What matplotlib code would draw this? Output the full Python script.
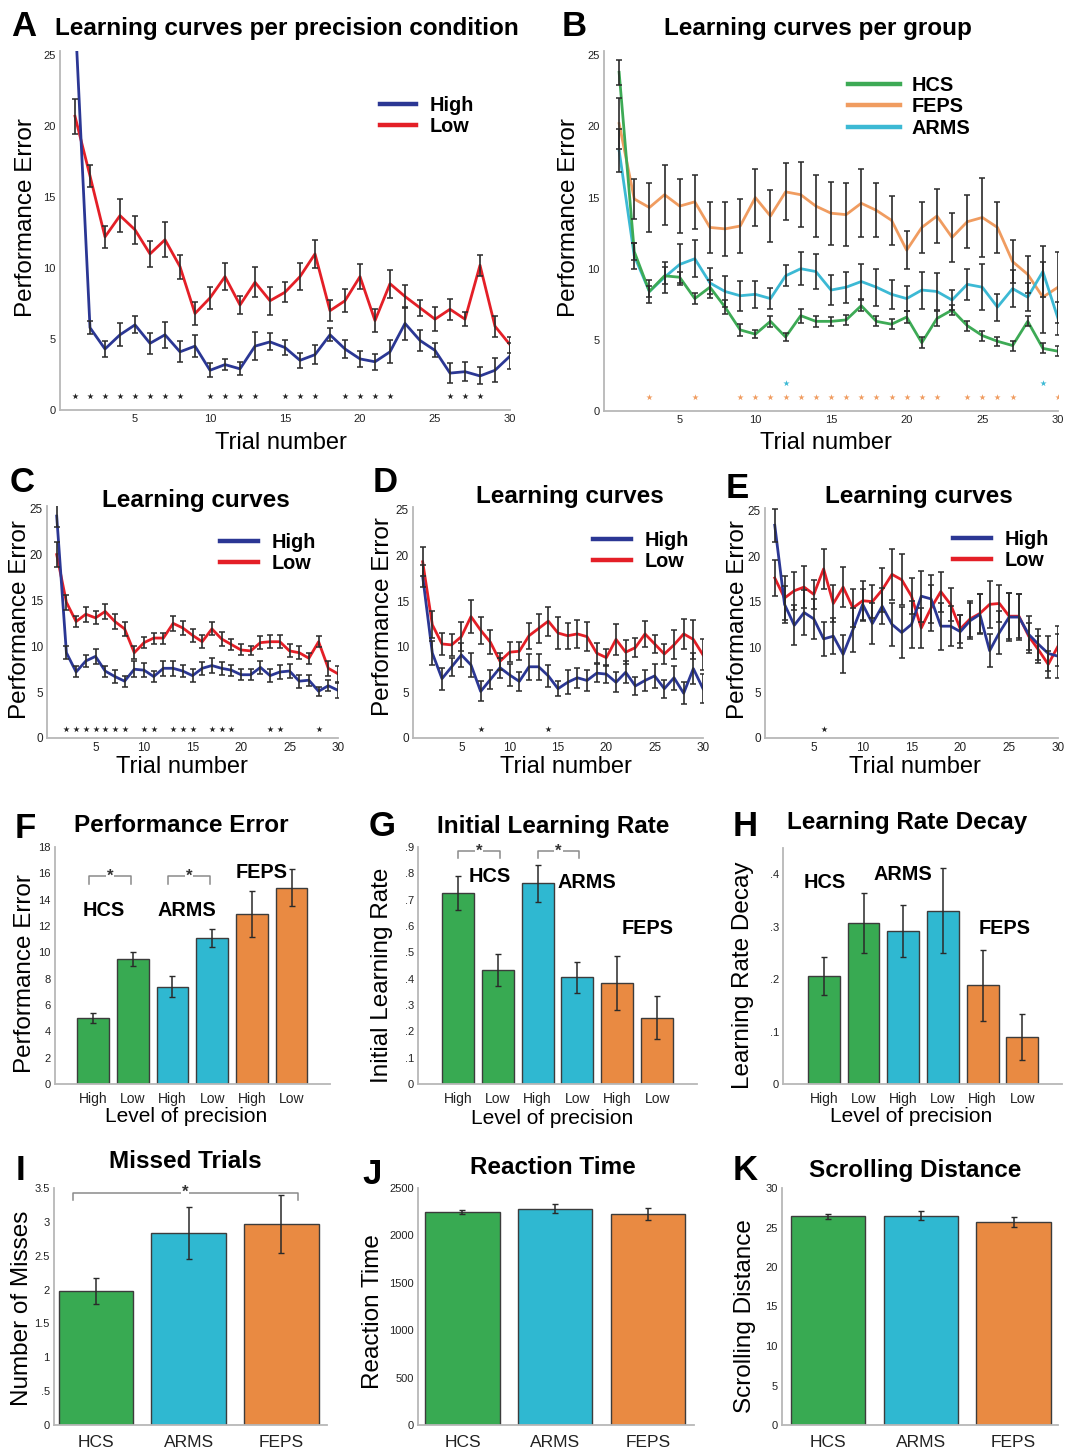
import numpy as np
import matplotlib
matplotlib.use("Agg")
import matplotlib.pyplot as plt
from matplotlib.lines import Line2D

plt.rcParams['font.family'] = ['Liberation Sans', 'DejaVu Sans']

W, H = 1065, 1452

## Data
trials = np.arange(1, 31)

# A: learning curves per precision condition
a_high = [28.0, 5.8, 4.3, 5.3, 6.0, 4.7, 5.3, 4.1, 4.5, 2.8, 3.2, 2.9, 4.5, 4.8, 4.4,
          3.5, 3.9, 5.3, 4.3, 3.6, 3.4, 4.1, 6.1, 4.9, 4.2, 2.6, 2.7, 2.4, 2.8, 3.8]
a_high_err = [1.5, 0.45, 0.55, 0.8, 0.6, 0.75, 0.9, 0.75, 0.8, 0.5, 0.4, 0.45, 1.0, 0.6, 0.55,
              0.55, 0.65, 0.45, 0.65, 0.55, 0.55, 0.8, 1.15, 0.75, 0.5, 0.7, 0.65, 0.6, 0.85, 0.9]
a_low = [20.7, 16.5, 12.2, 13.7, 12.7, 11.0, 12.0, 10.1, 6.8, 7.9, 9.4, 7.4, 9.0, 7.7, 8.3,
         9.4, 11.0, 7.0, 7.7, 9.4, 6.3, 8.9, 8.0, 7.2, 6.4, 7.1, 6.4, 10.2, 5.9, 4.6]
a_low_err = [1.25, 0.8, 0.75, 1.15, 1.0, 0.9, 1.25, 0.85, 0.8, 0.75, 0.95, 0.6, 1.05, 1.0, 0.7,
             0.95, 1.0, 0.75, 0.8, 0.9, 0.8, 1.0, 0.8, 0.55, 0.85, 0.75, 0.5, 0.75, 0.75, 0.55]
a_sig = [1, 2, 3, 4, 5, 6, 7, 8, 10, 11, 12, 13, 15, 16, 17, 19, 20, 21, 22, 26, 27, 28]

# B: learning curves per group
b_hcs = [23.8, 11.2, 8.4, 9.5, 9.4, 7.9, 8.7, 7.3, 5.7, 5.4, 6.3, 5.2, 6.7, 6.3, 6.3,
         6.4, 7.4, 6.3, 6.1, 6.6, 4.8, 6.5, 7.1, 6.0, 5.3, 4.9, 4.6, 6.3, 4.4, 4.2]
b_hcs_err = [0.9, 0.6, 0.4, 0.6, 0.4, 0.4, 0.5, 0.5, 0.4, 0.3, 0.4, 0.3, 0.5, 0.4, 0.3,
             0.35, 0.4, 0.35, 0.35, 0.4, 0.4, 0.5, 0.35, 0.35, 0.35, 0.3, 0.35, 0.35, 0.35, 0.35]
b_feps = [20.2, 14.9, 14.3, 15.2, 14.4, 14.7, 12.9, 12.8, 13.0, 15.0, 13.7, 15.4, 15.2, 14.4, 13.9,
          13.8, 14.6, 14.1, 13.4, 11.3, 12.9, 13.7, 12.2, 13.3, 13.6, 12.9, 10.5, 9.6, 8.0, 8.7]
b_feps_err = [1.8, 1.4, 1.75, 2.1, 1.9, 1.9, 1.8, 1.9, 1.9, 2.0, 1.8, 2.0, 2.3, 2.2, 2.2,
              2.2, 2.4, 1.9, 1.7, 1.35, 1.8, 1.9, 1.7, 1.85, 2.8, 1.8, 1.5, 1.3, 2.5, 2.5]
b_arms = [18.3, 10.9, 8.4, 9.4, 10.3, 10.7, 9.0, 8.4, 8.1, 8.2, 7.9, 9.5, 10.0, 9.8, 8.5,
          8.7, 9.1, 8.7, 8.2, 7.9, 8.5, 8.4, 7.8, 8.9, 8.7, 7.3, 8.6, 8.0, 9.8, 6.5]
b_arms_err = [1.5, 0.9, 0.8, 1.1, 1.45, 1.3, 1.05, 1.1, 1.05, 0.95, 0.75, 0.75, 1.15, 1.2, 1.05,
              1.1, 1.2, 1.3, 1.0, 0.9, 1.3, 1.3, 0.7, 1.1, 1.6, 0.95, 1.3, 1.0, 1.8, 1.15]
b_sig_feps = [3, 6, 9, 10, 11, 12, 13, 14, 15, 16, 17, 18, 19, 20, 21, 22, 24, 25, 26, 27, 30]
b_sig_arms = [12, 29]

# C, D, E: learning curves for HCS, ARMS, FEPS
c_high = [24.2, 9.3, 7.2, 8.4, 8.9, 7.3, 6.7, 6.2, 7.5, 7.4, 6.7, 7.6, 7.6, 7.3, 6.8,
          7.6, 7.9, 7.6, 7.4, 6.9, 6.9, 7.7, 6.8, 7.2, 7.3, 6.2, 6.3, 5.1, 5.7, 5.2]
c_high_err = [1.2, 0.7, 0.6, 0.7, 0.8, 0.6, 0.7, 0.6, 0.9, 0.8, 0.6, 0.8, 0.8, 0.7, 0.7,
              0.7, 0.8, 0.7, 0.6, 0.6, 0.6, 0.7, 0.7, 0.8, 0.8, 0.7, 0.6, 0.5, 0.6, 0.8]
c_low = [20.0, 14.8, 12.7, 13.5, 13.1, 13.8, 12.7, 11.9, 9.3, 10.4, 10.9, 10.9, 12.5, 12.0, 11.2,
         10.5, 11.9, 10.8, 10.2, 9.6, 9.5, 10.4, 10.5, 10.5, 9.5, 9.3, 8.7, 10.5, 7.6, 7.0]
c_low_err = [1.4, 0.8, 0.6, 0.8, 0.7, 0.8, 0.8, 0.8, 0.7, 0.6, 0.6, 0.6, 0.8, 0.8, 0.7,
             0.7, 0.7, 0.8, 0.6, 0.6, 0.5, 0.7, 0.7, 0.7, 0.7, 0.7, 0.6, 0.6, 0.8, 0.9]
c_sig = [2, 3, 4, 5, 6, 7, 8, 10, 11, 13, 14, 15, 17, 18, 19, 23, 24, 28]

d_high = [17.7, 9.3, 6.5, 7.8, 9.1, 8.0, 5.1, 6.4, 7.7, 6.9, 6.2, 7.8, 7.8, 6.8, 5.4,
          6.1, 6.6, 6.3, 7.1, 7.0, 6.1, 7.2, 5.7, 6.3, 6.8, 5.4, 6.6, 4.9, 7.6, 5.4]
d_high_err = [1.2, 1.3, 1.2, 1.0, 1.3, 1.3, 1.1, 1.0, 1.1, 1.2, 1.0, 1.4, 1.4, 1.2, 0.8,
              1.3, 1.1, 1.1, 1.0, 1.0, 1.1, 1.2, 1.0, 1.1, 1.3, 1.0, 1.3, 1.2, 1.7, 1.6]
d_low = [19.3, 12.4, 10.3, 10.2, 11.1, 13.3, 11.8, 10.5, 8.4, 9.4, 9.5, 11.2, 12.0, 12.8, 11.5,
         11.2, 11.4, 11.1, 9.3, 8.8, 10.8, 9.4, 9.9, 11.4, 10.3, 9.2, 10.2, 11.4, 10.8, 9.1]
d_low_err = [1.6, 1.5, 1.2, 1.2, 1.6, 1.8, 1.5, 1.3, 0.9, 1.1, 1.0, 1.4, 1.6, 1.6, 1.8,
             1.4, 1.5, 1.6, 1.1, 0.9, 1.7, 1.3, 1.0, 1.4, 1.0, 1.1, 1.6, 1.6, 2.1, 1.7]
d_sig = [7, 14]

e_high = [23.4, 14.7, 12.4, 13.8, 13.1, 10.9, 11.2, 9.2, 11.9, 14.7, 12.6, 14.5, 12.5, 11.6, 12.5,
          15.6, 15.3, 12.3, 12.3, 11.7, 12.9, 13.6, 9.6, 11.6, 13.3, 13.3, 11.4, 10.3, 9.3, 9.0]
e_high_err = [1.8, 2.0, 2.2, 2.5, 2.2, 1.9, 2.0, 2.1, 2.4, 1.7, 2.3, 2.0, 2.4, 2.8, 2.6,
              2.8, 2.6, 2.6, 2.2, 1.8, 2.0, 2.2, 1.8, 2.4, 2.6, 2.5, 2.0, 1.7, 1.9, 2.4]
e_low = [17.6, 15.4, 16.2, 16.6, 15.8, 18.6, 14.8, 16.6, 14.3, 15.1, 15.0, 16.3, 18.0, 17.4, 15.6,
         12.1, 14.3, 16.1, 14.7, 12.0, 13.1, 13.7, 14.7, 14.8, 13.4, 13.4, 11.2, 9.7, 8.1, 10.1]
e_low_err = [2.0, 2.4, 2.1, 2.3, 1.6, 2.2, 2.0, 2.2, 2.1, 2.2, 1.8, 2.4, 2.8, 2.8, 2.0,
             2.2, 2.5, 2.2, 1.8, 1.5, 2.0, 2.1, 2.6, 2.0, 2.5, 2.4, 1.5, 1.5, 1.5, 2.2]
e_sig = [6]

# F, G, H: model measures per group and precision level
precision_labels = ['High', 'Low', 'High', 'Low', 'High', 'Low']
f_perf = [5.0, 9.5, 7.4, 11.1, 12.9, 14.9]
f_perf_err = [0.4, 0.55, 0.8, 0.7, 1.75, 1.4]
g_rate = [0.725, 0.433, 0.763, 0.405, 0.383, 0.252]
g_rate_err = [0.065, 0.06, 0.07, 0.058, 0.103, 0.082]
h_decay = [0.206, 0.307, 0.292, 0.33, 0.188, 0.09]
h_decay_err = [0.037, 0.057, 0.049, 0.081, 0.068, 0.044]

# I, J, K: per group
groups = ['HCS', 'ARMS', 'FEPS']
i_misses = [1.98, 2.83, 2.97]
i_misses_err = [0.19, 0.385, 0.43]
j_rt = [2246, 2282, 2229]
j_rt_err = [25, 50, 65]
k_scroll = [26.4, 26.5, 25.7]
k_scroll_err = [0.3, 0.55, 0.6]

## Colours and font sizes
BLUE = '#2b3794'
RED = '#e41f27'
LGREEN, LORANGE, LCYAN = '#3daa55', '#f09c60', '#3cb9d4'
GREEN, CYAN, ORANGE = '#38aa52', '#2fb8d1', '#e98a42'
bar6 = [GREEN, GREEN, CYAN, CYAN, ORANGE, ORANGE]
bar3 = [GREEN, CYAN, ORANGE]
ERR = '#2a2a2a'
TITLE_FS = 17.5
LABEL_FS = 17.5
LETTER_FS = 25
TAG_FS = 14.3

fig = plt.figure(figsize=(W / 100, H / 100), dpi=100)


def fx(x):
    return x / W


def fy(y):
    return 1 - y / H


def px_axes(l, t, r, b):
    return fig.add_axes([l / W, 1 - b / H, (r - l) / W, (b - t) / H])


def style(ax, tick_fs=8):
    for s in ['top', 'right']:
        ax.spines[s].set_visible(False)
    for s in ['left', 'bottom']:
        ax.spines[s].set_color('#b8b8b8')
        ax.spines[s].set_linewidth(1.3)
    ax.tick_params(length=0, labelsize=tick_fs, pad=3, colors='#222222')


def set_ylabel(ax, yl, ypos, fs=LABEL_FS):
    ax.set_ylabel(yl, fontsize=fs)
    ax.yaxis.set_label_coords(fx(ypos[0]), fy(ypos[1]), transform=fig.transFigure)
    ax.yaxis.label.set_va('center')


def labels(ax, xl, xpos, yl, ypos, xfs=17):
    ax.set_xlabel(xl, fontsize=xfs)
    ax.xaxis.set_label_coords(fx(xpos[0]), fy(xpos[1]), transform=fig.transFigure)
    ax.xaxis.label.set_va('center')
    set_ylabel(ax, yl, ypos)


def ftext(x, y, s, size, weight='bold', **kw):
    fig.text(fx(x), fy(y), s, ha='center', va='center', fontsize=size, fontweight=weight, **kw)


def legend(ax, names, colors, x, y, hl, ls, pad=0.65):
    handles = [Line2D([], [], color=c, lw=3.2) for c in colors]
    ax.legend(handles, names, loc='upper left', bbox_to_anchor=(fx(x), fy(y)),
              bbox_transform=fig.transFigure, frameon=False,
              prop={'weight': 'bold', 'size': TAG_FS}, handlelength=hl,
              handletextpad=pad, labelspacing=ls, borderpad=0, borderaxespad=0)


def curves(ax, series):
    for vals, errs, col in series:
        ax.plot(trials, vals, color=col, lw=2.0, zorder=2)
        ax.errorbar(trials, vals, yerr=errs, fmt='none', ecolor=ERR, elinewidth=1.2,
                    capsize=2.3, capthick=1.1, zorder=3)
    ax.set_xlim(0, 30)
    ax.set_ylim(0, 25.3)
    ax.set_xticks([5, 10, 15, 20, 25, 30])
    ax.set_yticks([0, 5, 10, 15, 20, 25])


def stars(ax, xs, level, color='#222222'):
    ax.scatter(xs, [level] * len(xs), marker='*', s=22, color=color, lw=0, zorder=4)


def bars(ax, vals, errs, colors, xlim):
    x = np.arange(len(vals))
    ax.bar(x, vals, width=0.8, color=colors, edgecolor='#3c3c3c', lw=1.0, zorder=2)
    ax.errorbar(x, vals, yerr=errs, fmt='none', ecolor=ERR, elinewidth=1.1,
                capsize=2.5, capthick=1.0, zorder=3)
    ax.set_xlim(*xlim)
    return x


def bracket(ax, x0, x1, y_top, y_bot, star_y):
    ax.plot([x0, x0, x1, x1], [y_bot, y_top, y_top, y_bot], color='#8a8a8a', lw=1.1,
            zorder=4, clip_on=False)
    ax.text((x0 + x1) / 2, star_y, '*', ha='center', va='center', fontsize=12,
            fontweight='bold', color='#333333', zorder=5,
            bbox=dict(boxstyle='square,pad=0.05', fc='white', ec='none'))


## Panel A
ax = px_axes(60, 51, 510, 410)
style(ax)
curves(ax, [(a_low, a_low_err, RED), (a_high, a_high_err, BLUE)])
stars(ax, a_sig, 1)
labels(ax, 'Trial number', (281, 443), 'Performance Error', (26, 218))
legend(ax, ['High', 'Low'], [BLUE, RED], 380, 96, 1.8, 0.1, 0.7)
ftext(287, 28, 'Learning curves per precision condition', TITLE_FS)
ftext(24, 26, 'A', LETTER_FS)

## Panel B
ax = px_axes(604, 51, 1058, 411)
style(ax)
curves(ax, [(b_feps, b_feps_err, LORANGE), (b_arms, b_arms_err, LCYAN), (b_hcs, b_hcs_err, LGREEN)])
stars(ax, b_sig_feps, 1, LORANGE)
stars(ax, b_sig_arms, 2, LCYAN)
labels(ax, 'Trial number', (826, 443), 'Performance Error', (569, 218))
legend(ax, ['HCS', 'FEPS', 'ARMS'], [LGREEN, LORANGE, LCYAN], 848, 76, 2.6, 0.12, 0.6)
ftext(818, 28, 'Learning curves per group', TITLE_FS)
ftext(574, 26, 'B', LETTER_FS)

## Panels C, D, E
cde = [
    ((47, 506, 338, 738), [(c_low, c_low_err, RED), (c_high, c_high_err, BLUE)], c_sig,
     (182, 767), (20, 620), (220, 533), (196, 500), 'C', (22, 483)),
    ((413, 507, 703, 738), [(d_low, d_low_err, RED), (d_high, d_high_err, BLUE)], d_sig,
     (566, 767), (383, 617), (593, 531), (570, 497), 'D', (385, 483)),
    ((765, 508, 1058, 738), [(e_low, e_low_err, RED), (e_high, e_high_err, BLUE)], e_sig,
     (915, 767), (738, 620), (953, 530), (919, 497), 'E', (737, 488)),
]
for box, series, sig, xlp, ylp, legp, titp, letter, letp in cde:
    ax = px_axes(*box)
    style(ax, 8.5)
    curves(ax, series)
    stars(ax, sig, 1)
    labels(ax, 'Trial number', xlp, 'Performance Error', ylp)
    legend(ax, ['High', 'Low'], [BLUE, RED], legp[0], legp[1], 1.9, 0.12, 0.7)
    ftext(titp[0], titp[1], 'Learning curves', TITLE_FS)
    ftext(letp[0], letp[1], letter, LETTER_FS)

## Panel F
ax = px_axes(55, 847, 330, 1084)
style(ax)
x = bars(ax, f_perf, f_perf_err, bar6, (-0.96, 5.97))
ax.set_ylim(0, 18)
ax.set_yticks(range(0, 19, 2))
ax.set_xticks(x)
ax.set_xticklabels(precision_labels, fontsize=10)
ax.tick_params(axis='x', pad=6)
bracket(ax, x[0] - 0.1, x[1] - 0.05, 15.8, 15.2, 15.8)
bracket(ax, x[2] - 0.1, x[3] - 0.05, 15.8, 15.2, 15.8)
labels(ax, 'Level of precision', (186, 1117), 'Performance Error', (25, 974), xfs=15)
ftext(104, 911, 'HCS', TAG_FS)
ftext(187, 911, 'ARMS', TAG_FS)
ftext(262, 872, 'FEPS', TAG_FS)
ftext(181, 825, 'Performance Error', TITLE_FS)
ftext(25, 828, 'F', LETTER_FS)

## Panel G
ax = px_axes(418, 847, 697, 1084)
style(ax)
x = bars(ax, g_rate, g_rate_err, bar6, (-1.0, 6.0))
ax.set_ylim(0, 0.9)
ax.set_yticks(np.arange(0, 10) / 10)
ax.set_yticklabels(['0'] + ['.%d' % i for i in range(1, 10)])
ax.set_xticks(x)
ax.set_xticklabels(precision_labels, fontsize=10)
ax.tick_params(axis='x', pad=6)
bracket(ax, x[0], x[1] + 0.05, 0.885, 0.858, 0.885)
bracket(ax, x[2], x[3] + 0.05, 0.885, 0.858, 0.885)
labels(ax, 'Level of precision', (552, 1119), 'Initial Learning Rate', (382, 975), xfs=15)
ftext(490, 877, 'HCS', TAG_FS)
ftext(587, 882, 'ARMS', TAG_FS)
ftext(648, 929, 'FEPS', TAG_FS)
ftext(553, 826, 'Initial Learning Rate', TITLE_FS)
ftext(382, 826, 'G', LETTER_FS)

## Panel H
ax = px_axes(783, 848, 1062, 1084)
style(ax)
x = bars(ax, h_decay, h_decay_err, bar6, (-1.03, 6.0))
ax.set_ylim(0, 0.45)
ax.set_yticks(np.arange(0, 5) / 10)
ax.set_yticklabels(['0'] + ['.%d' % i for i in range(1, 5)])
ax.set_xticks(x)
ax.set_xticklabels(precision_labels, fontsize=10)
ax.tick_params(axis='x', pad=6)
labels(ax, 'Level of precision', (911, 1117), 'Learning Rate Decay', (743, 975), xfs=15)
ftext(825, 883, 'HCS', TAG_FS)
ftext(903, 874, 'ARMS', TAG_FS)
ftext(1005, 929, 'FEPS', TAG_FS)
ftext(907, 822, 'Learning Rate Decay', TITLE_FS)
ftext(745, 826, 'H', LETTER_FS)

## Panel I
ax = px_axes(54, 1188, 327, 1425)
style(ax)
x = bars(ax, i_misses, i_misses_err, bar3, (-0.45, 2.49))
ax.set_ylim(0, 3.5)
ax.set_yticks(np.arange(0, 8) / 2)
ax.set_yticklabels(['0', '.5', '1', '1.5', '2', '2.5', '3', '3.5'])
ax.set_xticks(x)
ax.set_xticklabels(groups, fontsize=12.5)
ax.tick_params(axis='x', pad=7)
bracket(ax, -0.25, 2.18, 3.43, 3.32, 3.43)
set_ylabel(ax, 'Number of Misses', (22, 1308))
ftext(185, 1162, 'Missed Trials', TITLE_FS)
ftext(20, 1170, 'I', LETTER_FS)

## Panel J
ax = px_axes(418, 1188, 694, 1425)
style(ax)
x = bars(ax, j_rt, j_rt_err, bar3, (-0.48, 2.5))
ax.set_ylim(0, 2500)
ax.set_yticks(range(0, 2501, 500))
ax.set_xticks(x)
ax.set_xticklabels(groups, fontsize=12.5)
ax.tick_params(axis='x', pad=7)
set_ylabel(ax, 'Reaction Time', (373, 1312))
ftext(553, 1167, 'Reaction Time', TITLE_FS)
ftext(372, 1175, 'J', LETTER_FS)

## Panel K
ax = px_axes(782, 1188, 1058, 1425)
style(ax)
x = bars(ax, k_scroll, k_scroll_err, bar3, (-0.5, 2.48))
ax.set_ylim(0, 30)
ax.set_yticks(range(0, 31, 5))
ax.set_xticks(x)
ax.set_xticklabels(groups, fontsize=12.5)
ax.tick_params(axis='x', pad=7)
set_ylabel(ax, 'Scrolling Distance', (745, 1316))
ftext(915, 1171, 'Scrolling Distance', TITLE_FS)
ftext(745, 1170, 'K', LETTER_FS)

fig.savefig('out.png', dpi=100)
